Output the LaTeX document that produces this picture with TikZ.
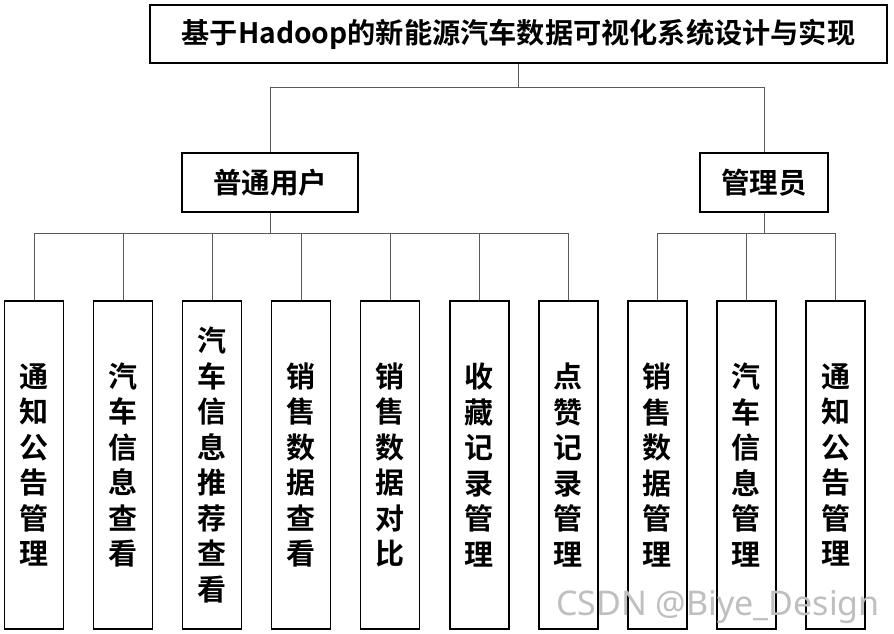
\documentclass[tikz,border=0pt]{standalone}
\usepackage{fontspec}
\setmainfont{Noto Sans CJK SC}[BoldFont={Noto Sans CJK SC Bold}]
\newfontfamily\wmfont{Noto Sans}
\begin{document}
\begin{tikzpicture}[x=1pt,y=-1pt,
  box/.style={draw=black,line width=1.4pt,fill=white,inner sep=0pt,align=center},
  topbox/.style={box,minimum width=737pt,minimum height=58pt,font=\fontsize{28.2}{30}\selectfont\bfseries},
  midbox/.style={box,minimum height=59pt,font=\fontsize{28.5}{30}\selectfont\bfseries},
  leafbox/.style={box,minimum width=59pt,minimum height=328pt,font=\fontsize{29}{35.5}\selectfont\bfseries},
  conn/.style={draw=black!65,line width=1pt}]
\useasboundingbox (0,0) rectangle (894,634);
\fill[white] (0,0) rectangle (894,634);

\node[topbox] (title) at (518.5,34) {基于Hadoop的新能源汽车数据可视化系统设计与实现};
\node[midbox,minimum width=176pt] (user) at (270,182.5) {普通用户};
\node[midbox,minimum width=128pt] (admin) at (764,182.5) {管理员};

\coordinate (j1) at (518.5,87);
\coordinate (j2) at (0,233);

\node[leafbox] (l1) at (34,465) {通\\知\\公\\告\\管\\理};
\node[leafbox] (l2) at (123.06,465) {汽\\车\\信\\息\\查\\看};
\node[leafbox] (l3) at (212.12,465) {汽\\车\\信\\息\\推\\荐\\查\\看};
\node[leafbox] (l4) at (301.18,465) {销\\售\\数\\据\\查\\看};
\node[leafbox] (l5) at (390.24,465) {销\\售\\数\\据\\对\\比};
\node[leafbox] (l6) at (479.3,465) {收\\藏\\记\\录\\管\\理};
\node[leafbox] (l7) at (568.36,465) {点\\赞\\记\\录\\管\\理};
\node[leafbox] (l8) at (657.42,465) {销\\售\\数\\据\\管\\理};
\node[leafbox] (l9) at (746.48,465) {汽\\车\\信\\息\\管\\理};
\node[leafbox] (l10) at (835.54,465) {通\\知\\公\\告\\管\\理};

% title to roles
\draw[conn] (title.south) -- (j1);
\draw[conn] (user.north) -- (user.north |- j1) -- (admin.north |- j1) -- (admin.north);

% user to leaves
\draw[conn] (user.south) -- (user.south |- j2);
\draw[conn] (l1.north) -- (l1.north |- j2) -- (l7.north |- j2) -- (l7.north);
\foreach \n in {l2,l3,l4,l5,l6} \draw[conn] (\n.north) -- (\n.north |- j2);

% admin to leaves
\draw[conn] (admin.south) -- (admin.south |- j2);
\draw[conn] (l8.north) -- (l8.north |- j2) -- (l10.north |- j2) -- (l10.north);
\draw[conn] (l9.north) -- (l9.north |- j2);

% watermark
\node[text=black!25,font=\wmfont\fontsize{34}{36}\selectfont,inner sep=0pt,anchor=south east] (wm) at (880,624) {CSDN @Biye\_Design};
\end{tikzpicture}
\end{document}
